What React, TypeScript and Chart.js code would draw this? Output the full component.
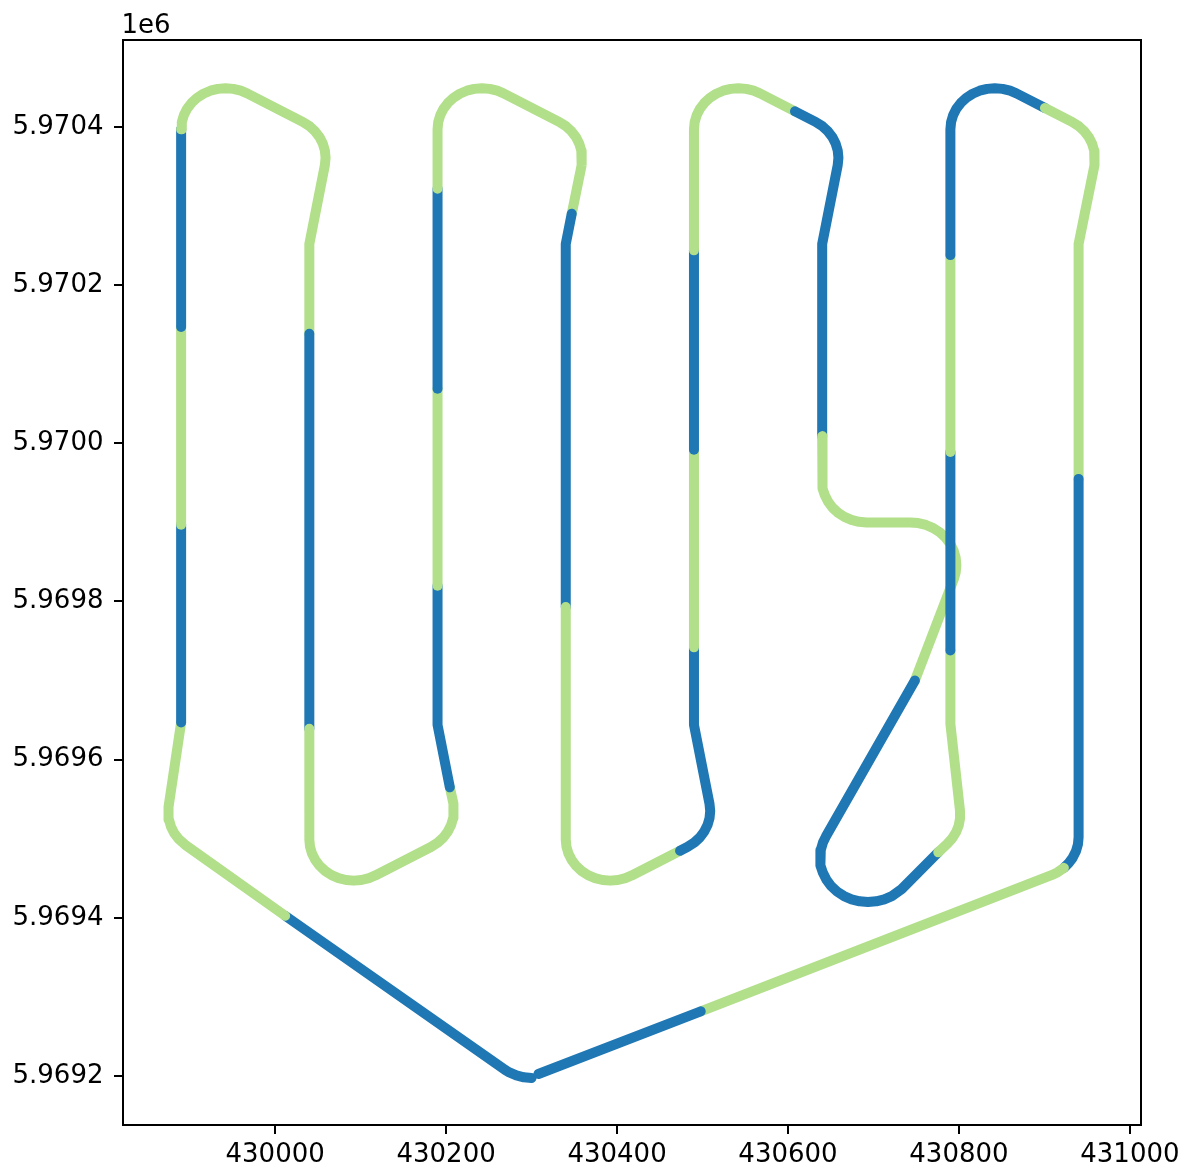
import { useEffect, useRef } from 'react';
import { Chart, registerables } from 'chart.js';

Chart.register(...registerables);

// Axis ranges and tick values (data units)
const xRange = [429822, 431013];
const yRange = [5969138, 5970510];
const xTickValues = [430000, 430200, 430400, 430600, 430800, 431000];
const yTickValues = [5969200, 5969400, 5969600, 5969800, 5970000, 5970200, 5970400];
const offsetLabel = '1e6';

// Path segments, in drawing order (x, y)
const seg01 = [[430300, 5969197.5], [430290.97, 5969198.29], [430282.22, 5969200.64], [430274, 5969204.47], [430269.04, 5969207.7], [430011.7, 5969402.6]];
const seg02 = [[430011.7, 5969402.6], [429896.05, 5969491.21], [429887.17, 5969499.58], [429881.97, 5969507], [429878.14, 5969515.22], [429875.79, 5969523.97], [429875, 5969533], [429875.51, 5969540.24], [429890, 5969647]];
const seg03 = [[429890, 5969647], [429890, 5969897]];
const seg04 = [[429890, 5969897], [429890, 5970147]];
const seg05 = [[429890, 5970147], [429890, 5970397]];
const seg06 = [[429890, 5970397], [429890.79, 5970406.03], [429893.14, 5970414.78], [429896.97, 5970423], [429902.17, 5970430.43], [429908.57, 5970436.83], [429916, 5970442.03], [429924.22, 5970445.86], [429932.97, 5970448.21], [429942, 5970449], [429951.03, 5970448.21], [429959.78, 5970445.86], [429967.21, 5970442.48], [430032.21, 5970406.48], [430040.43, 5970400.83], [430046.83, 5970394.43], [430052.03, 5970387], [430055.86, 5970378.78], [430058.21, 5970370.03], [430059, 5970361], [430058.16, 5970351.7], [430040, 5970252], [430040, 5970138.6]];
const seg07 = [[430040, 5970138.6], [430040, 5969639]];
const seg08 = [[430040, 5969639], [430040, 5969499], [430040.79, 5969489.97], [430043.14, 5969481.22], [430046.97, 5969473], [430052.17, 5969465.57], [430058.57, 5969459.17], [430066, 5969453.97], [430074.22, 5969450.14], [430082.97, 5969447.79], [430092, 5969447], [430101.03, 5969447.79], [430109.78, 5969450.14], [430117.21, 5969453.52], [430182.21, 5969489.52], [430190.43, 5969495.17], [430196.83, 5969501.57], [430202.03, 5969509], [430205.86, 5969517.22], [430208.21, 5969525.97], [430209, 5969535], [430208.16, 5969544.3], [430204.37, 5969565.1]];
const seg09 = [[430204.37, 5969565.1], [430190, 5969644], [430190, 5969820]];
const seg10 = [[430190, 5969820], [430190, 5970069]];
const seg11 = [[430190, 5970069], [430190, 5970322]];
const seg12 = [[430190, 5970322], [430190, 5970397], [430190.79, 5970406.03], [430193.14, 5970414.78], [430196.97, 5970423], [430202.17, 5970430.43], [430208.57, 5970436.83], [430216, 5970442.03], [430224.22, 5970445.86], [430232.97, 5970448.21], [430242, 5970449], [430251.03, 5970448.21], [430259.78, 5970445.86], [430267.21, 5970442.48], [430332.21, 5970406.48], [430340.43, 5970400.83], [430346.83, 5970394.43], [430352.03, 5970387], [430355.86, 5970378.78], [430358.21, 5970370.03], [430359, 5970361], [430358.16, 5970351.7], [430347, 5970290.4]];
const seg13 = [[430347, 5970290.4], [430340, 5970252], [430340, 5969793]];
const seg14 = [[430340, 5969793], [430340, 5969499], [430340.79, 5969489.97], [430343.14, 5969481.22], [430346.97, 5969473], [430352.17, 5969465.57], [430358.57, 5969459.17], [430366, 5969453.97], [430374.22, 5969450.14], [430382.97, 5969447.79], [430392, 5969447], [430401.03, 5969447.79], [430409.78, 5969450.14], [430417.21, 5969453.52], [430473.7, 5969484.81]];
const seg15 = [[430473.7, 5969484.81], [430482.21, 5969489.52], [430490.43, 5969495.17], [430496.83, 5969501.57], [430502.03, 5969509], [430505.86, 5969517.22], [430508.21, 5969525.97], [430509, 5969535], [430508.16, 5969544.3], [430490, 5969644], [430490, 5969742]];
const seg16 = [[430490, 5969742], [430490, 5969992]];
const seg17 = [[430490, 5969992], [430490, 5970244]];
const seg18 = [[430490, 5970244], [430490, 5970397], [430490.79, 5970406.03], [430493.14, 5970414.78], [430496.97, 5970423], [430502.17, 5970430.43], [430508.57, 5970436.83], [430516, 5970442.03], [430524.22, 5970445.86], [430532.97, 5970448.21], [430542, 5970449], [430551.03, 5970448.21], [430559.78, 5970445.86], [430567.21, 5970442.48], [430608.2, 5970419.77]];
const seg19 = [[430608.2, 5970419.77], [430632.21, 5970406.48], [430640.43, 5970400.83], [430646.83, 5970394.43], [430652.03, 5970387], [430655.86, 5970378.78], [430658.21, 5970370.03], [430659, 5970361], [430658.16, 5970351.7], [430640, 5970252], [430640, 5970009]];
const seg20 = [[430640, 5970009], [430640, 5969952], [430640.79, 5969942.97], [430643.14, 5969934.22], [430646.97, 5969926], [430652.17, 5969918.57], [430658.57, 5969912.17], [430666, 5969906.97], [430674.22, 5969903.14], [430682.97, 5969900.79], [430692, 5969900], [430743, 5969900], [430752.37, 5969899.18], [430761.47, 5969896.74], [430770, 5969892.77], [430777.71, 5969887.36], [430784.36, 5969880.71], [430789.77, 5969873], [430793.74, 5969864.47], [430796.18, 5969855.38], [430797, 5969846], [430796.18, 5969836.62], [430794.36, 5969829.31], [430748.5, 5969700]];
const seg21 = [[430748.5, 5969700], [430644.29, 5969502.72], [430640.88, 5969495.15], [430638.35, 5969485.72], [430637.5, 5969476], [430638.35, 5969466.28], [430640.88, 5969456.85], [430645, 5969448], [430650.6, 5969440], [430657.5, 5969433.1], [430665.5, 5969427.5], [430674.35, 5969423.38], [430683.78, 5969420.85], [430693.5, 5969420], [430703.22, 5969420.85], [430712.65, 5969423.38], [430721.5, 5969427.5], [430732.96, 5969436.26], [430775.8, 5969482.9]];
const seg22 = [[430775.8, 5969482.9], [430786.27, 5969493.43], [430792.1, 5969500.37], [430796.63, 5969508.23], [430799.73, 5969516.74], [430801.3, 5969525.67], [430801.21, 5969535.63], [430790, 5969645], [430790, 5969738]];
const seg23 = [[430790, 5969738], [430790, 5969989]];
const seg24 = [[430790, 5969989], [430790, 5970238]];
const seg25 = [[430790, 5970238], [430790, 5970397], [430790.79, 5970406.03], [430793.14, 5970414.78], [430796.97, 5970423], [430802.17, 5970430.43], [430808.57, 5970436.83], [430816, 5970442.03], [430824.22, 5970445.86], [430832.97, 5970448.21], [430842, 5970449], [430851.03, 5970448.21], [430859.78, 5970445.86], [430867.21, 5970442.48], [430900.6, 5970423.98]];
const seg26 = [[430900.6, 5970423.98], [430932.21, 5970406.48], [430940.43, 5970400.83], [430946.83, 5970394.43], [430952.03, 5970387], [430955.86, 5970378.78], [430958.21, 5970370.03], [430959, 5970361], [430958.16, 5970351.7], [430940, 5970252], [430940, 5969955]];
const seg27 = [[430940, 5969955], [430940, 5969501.8], [430939.21, 5969492.77], [430936.86, 5969484.02], [430933.03, 5969475.8], [430927.83, 5969468.38], [430922.79, 5969463.16]];
const seg28 = [[430922.79, 5969463.16], [430915.56, 5969457.7], [430908.23, 5969453.9], [430497.9, 5969281.7]];
const seg29 = [[430497.9, 5969281.7], [430308, 5969202.5]];

const segments = [seg01, seg02, seg03, seg04, seg05, seg06, seg07, seg08, seg09, seg10,
  seg11, seg12, seg13, seg14, seg15, seg16, seg17, seg18, seg19, seg20,
  seg21, seg22, seg23, seg24, seg25, seg26, seg27, seg28, seg29];

const BLUE = '#1f77b4';
const GREEN = '#b2df8a';
const FONT = 'DejaVu Sans';

const framePlugin = {
  id: 'frame',
  afterDraw(chart: any) {
    const { ctx, chartArea: a } = chart;
    ctx.save();
    ctx.strokeStyle = '#000';
    ctx.lineWidth = 2;
    ctx.strokeRect(a.left, a.top, a.right - a.left, a.bottom - a.top);
    ctx.fillStyle = '#000';
    ctx.font = `26px "${FONT}"`;
    ctx.textAlign = 'left';
    ctx.textBaseline = 'alphabetic';
    ctx.fillText(offsetLabel, a.left - 1.5, a.top - 7);
    ctx.restore();
  },
};

export default function App() {
  const ref = useRef<HTMLCanvasElement>(null);

  useEffect(() => {
    const canvas = ref.current;
    if (!canvas) return;
    const datasets = segments.map((seg, i) => ({
      data: seg.map(([x, y]) => ({ x, y })),
      showLine: true,
      borderColor: i % 2 === 0 ? BLUE : GREEN,
      backgroundColor: i % 2 === 0 ? BLUE : GREEN,
      borderWidth: 10,
      pointRadius: 0,
      pointHoverRadius: 0,
      borderCapStyle: 'round',
      borderJoinStyle: 'round',
      tension: 0,
      fill: false,
      clip: false,
      order: -i,
    }));

    const tickFont = { family: FONT, size: 26 };
    const chart = new Chart(canvas, {
      type: 'scatter',
      data: { datasets: datasets as any },
      options: {
        animation: false,
        responsive: false,
        devicePixelRatio: 1,
        events: [],
        layout: { padding: { top: 40, right: 51, left: 0, bottom: 0 } },
        plugins: { legend: { display: false }, tooltip: { enabled: false } },
        scales: {
          x: {
            type: 'linear',
            min: xRange[0],
            max: xRange[1],
            afterBuildTicks: (s: any) => { s.ticks = xTickValues.map((value) => ({ value })); },
            ticks: {
              autoSkip: false,
              maxRotation: 0,
              color: '#000',
              font: tickFont,
              padding: 6,
              callback: (v: any) => String(v),
            },
            grid: { drawOnChartArea: false, drawTicks: true, tickLength: 9, color: '#000', lineWidth: 2 },
            border: { display: false },
            afterFit: (s: any) => { s.height = 51; },
          },
          y: {
            type: 'linear',
            min: yRange[0],
            max: yRange[1],
            afterBuildTicks: (s: any) => { s.ticks = yTickValues.map((value) => ({ value })); },
            ticks: {
              autoSkip: false,
              color: '#000',
              font: tickFont,
              padding: 10.5,
              callback: (v: any) => (Number(v) / 1e6).toFixed(4),
            },
            grid: { drawOnChartArea: false, drawTicks: true, tickLength: 9, color: '#000', lineWidth: 2 },
            border: { display: false },
            afterFit: (s: any) => { s.width = 123; },
          },
        },
      } as any,
      plugins: [framePlugin],
    });
    return () => chart.destroy();
  }, []);

  return (
    <div style={{ position: 'absolute', left: 0, top: 0, width: 1192, height: 1176, background: '#fff' }}>
      <canvas ref={ref} width={1192} height={1176} style={{ display: 'block' }} />
    </div>
  );
}
